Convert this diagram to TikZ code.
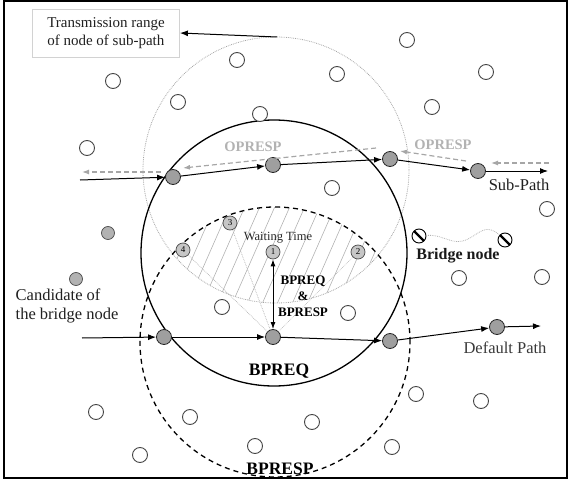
\documentclass[tikz,border=0pt]{standalone}
\usepackage{fontspec}
\setmainfont{Liberation Serif}
\usetikzlibrary{arrows.meta, positioning, calc}

\begin{document}
\begin{tikzpicture}[x=1pt, y=-1pt,
    hop/.style={-{Latex[length=8pt,width=6pt]}, line width=1pt},
    opresp/.style={-{Latex[length=7pt,width=5pt]}, gray!70, line width=1.2pt, dash pattern=on 5pt off 3pt},
    pathnode/.style={circle, draw=gray!30!black, fill=gray!75, minimum size=15pt, inner sep=0pt, line width=0.8pt},
    freenode/.style={circle, draw=gray!55!black, fill=white, minimum size=15pt, inner sep=0pt, line width=0.9pt},
    candnode/.style={circle, draw=gray!60!black, fill=gray!60, minimum size=13pt, inner sep=0pt, line width=0.7pt},
    waitnode/.style={candnode, fill=gray!45, minimum size=14pt, font=\fontsize{9}{9}\selectfont},
    bridgenode/.style={circle, draw=black, fill=white, minimum size=14pt, inner sep=0pt, line width=0.9pt,
        path picture={\draw[line width=2.4pt] (path picture bounding box.north west) -- (path picture bounding box.south east);}},
    lbl/.style={text=gray!25!black, inner sep=0pt, font=\fontsize{16.5}{19}\selectfont}
]
    \useasboundingbox (0,0) rectangle (571,479);
    \draw[line width=1.2pt] (4,1) rectangle (567,478);

    % 等待区域
    \begin{scope}
        \clip (276,170) circle (133pt);
        \clip (275,342) circle (135pt);
        \foreach \x in {90,105,...,420}
            \draw[gray!60, line width=0.6pt] (\x,320) -- ++(55,-125);
    \end{scope}

    % 范围
    \draw[gray!70, densely dotted, line width=0.8pt] (276,170) circle (133pt);
    \draw[line width=1.3pt] (274,253) circle (133pt);
    \draw[line width=1.3pt, dash pattern=on 5pt off 4pt] (275,342) circle (135pt);

    % 其它节点
    \foreach \p [count=\i] in {(113,81), (178,102), (237,60), (260,114), (87,148), (407,40),
        (337,74), (486,72), (432,107), (332,188), (547,209), (459,278), (542,277), (348,313),
        (222,307), (96,412), (190,417), (312,422), (255,446), (140,455), (416,394), (481,401), (392,447)}
        \node[freenode] (free\i) at \p {};

    % 子路径
    \node[pathnode] (sp1) at (173,177) {};
    \node[pathnode] (sp2) at (273,165) {};
    \node[pathnode] (sp3) at (390,159) {};
    \node[pathnode] (sp4) at (478,171) {};
    \coordinate (spin) at (80,180);
    \coordinate (spout) at (548,171);
    \draw[hop] (spin) -- (sp1);
    \draw[hop] (sp1) -- (sp2);
    \draw[hop] (sp2) -- (sp3);
    \draw[hop] (sp3) -- (sp4);
    \draw[hop] (sp4) -- (spout);

    % OPRESP
    \coordinate (op1) at (549,163);
    \coordinate (op2) at (491,163);
    \coordinate (op3) at (466,161);
    \coordinate (op4) at (400,151);
    \coordinate (op5) at (376,148);
    \coordinate (op6) at (183,168);
    \coordinate (op7) at (161,172);
    \coordinate (op8) at (82,172);
    \draw[opresp] (op1) -- (op2);
    \draw[opresp] (op3) -- (op4);
    \draw[opresp] (op5) -- (op6);
    \draw[opresp] (op7) -- (op8);
    \node[text=gray!60, font=\bfseries\fontsize{14.5}{14.5}\selectfont] (oplbl1) at (253,147) {OPRESP};
    \node[text=gray!60, font=\bfseries\fontsize{14.5}{14.5}\selectfont] (oplbl2) at (443,145) {OPRESP};
    \node[lbl] (splbl) at (519,185) {Sub-Path};

    % 默认路径
    \node[pathnode] (dp1) at (164,337) {};
    \node[pathnode] (dp2) at (273,337) {};
    \node[pathnode] (dp3) at (390,341) {};
    \node[pathnode] (dp4) at (497,327) {};
    \coordinate (dpin) at (82,338);
    \coordinate (dpout) at (541,326);
    \draw[hop] (dpin) -- (dp1);
    \draw[hop] (dp1) -- (dp2);
    \draw[hop] (dp2) -- (dp3);
    \draw[hop] (dp3) -- (dp4);
    \draw[hop] (dp4) -- (dpout);
    \node[lbl, text=gray!45!black] (dplbl) at (505,348) {Default Path};

    % 等待节点
    \node[waitnode] (wt1) at (273,252) {1};
    \node[waitnode] (wt2) at (358,252) {2};
    \node[waitnode] (wt3) at (230,223) {3};
    \node[waitnode] (wt4) at (183,250) {4};
    \foreach \w in {wt2, wt3, wt4}
        \draw[gray!60, densely dotted, line width=0.7pt] (dp2) -- (\w);
    \draw[{Latex[length=7pt,width=5pt]}-{Latex[length=7pt,width=5pt]}, line width=1pt] (wt1) -- (dp2);
    \node[text=gray!30!black, font=\fontsize{12.5}{12.5}\selectfont] (wtlbl) at (278,238) {Waiting Time};
    \node[align=center, font=\bfseries\fontsize{13}{16}\selectfont] (reqlbl) at (303,296) {BPREQ\\\&\\BPRESP};

    % 候选节点
    \node[candnode] (cand1) at (108,233) {};
    \node[candnode] (cand2) at (76,279) {};
    \node[lbl, align=left] (candlbl) at (67,306) {Candidate of\\the bridge node};

    % 桥节点
    \node[bridgenode] (br1) at (419,236) {};
    \node[bridgenode] (br2) at (505,240) {};
    \draw[gray!60, densely dotted, line width=0.8pt] (br1) .. controls (445,234) and (452,247) .. (468,239)
        .. controls (480,233) and (486,223) .. (br2);
    \node[lbl, text=gray!20!black, font=\bfseries\fontsize{16}{16}\selectfont] (brlbl) at (458,256) {Bridge node};

    % 范围标签
    \node[font=\bfseries\fontsize{17.5}{17.5}\selectfont] (bpreq) at (279,371) {BPREQ};
    \node[font=\bfseries\fontsize{17.5}{17.5}\selectfont] (bpresp) at (280,469) {BPRESP};
    \node[draw=gray!35, line width=0.8pt, align=left, text=gray!25!black, font=\fontsize{15}{18}\selectfont,
        minimum width=147pt, minimum height=48pt] (range) at (106,33) {Transmission range\\of node of sub-path};
    \coordinate (rangetop) at (277,37);
    \draw[hop] (rangetop) -- (range.east);
\end{tikzpicture}
\end{document}
